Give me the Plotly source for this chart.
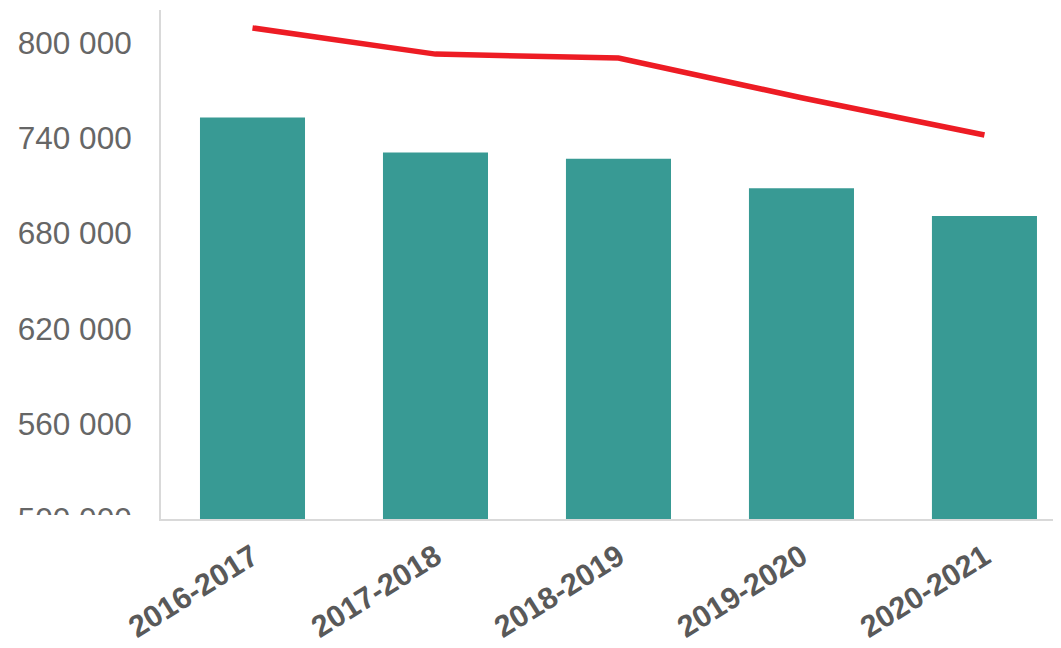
import plotly.graph_objects as go

categories = ["2016-2017", "2017-2018", "2018-2019", "2019-2020", "2020-2021"]
bar_values = [753000, 731000, 727000, 708500, 691000]
line_values = [809500, 793000, 790500, 765500, 742000]
y_ticks = [500000, 560000, 620000, 680000, 740000, 800000]
y_tick_labels = ["500 000", "560 000", "620 000", "680 000", "740 000", "800 000"]

# the page body has an 8px default margin; compensate in the figure margins
W, H = 1061, 648
ml, mr, mt, mb = 153, 0, 2, 137

fig = go.Figure()
fig.add_trace(go.Bar(x=list(range(len(categories))), y=bar_values,
                     marker=dict(color="#389A94", line=dict(width=0))))
fig.add_trace(go.Scatter(x=list(range(len(categories))), y=line_values, mode="lines",
                         line=dict(color="#ED1C24", width=5.5)))

fig.update_layout(
    width=W, height=H,
    margin=dict(l=ml, r=mr, t=mt, b=mb, autoexpand=False),
    plot_bgcolor="white", paper_bgcolor="white",
    showlegend=False,
    bargap=0.426,
    font=dict(family="Liberation Sans, Arial, sans-serif"),
    xaxis=dict(
        tickmode="array", tickvals=list(range(len(categories))), ticktext=categories,
        range=[-0.5, 4.462], showgrid=False, zeroline=False, automargin=False,
        showline=True, linecolor="#D9D9D9", linewidth=2,
        tickangle=-32, ticks="", ticklabelstandoff=6,
        tickfont=dict(size=30.5, color="#595959", family="Liberation Sans, Arial, sans-serif", weight="bold"),
    ),
    yaxis=dict(
        tickmode="array", tickvals=y_ticks, ticktext=y_tick_labels,
        range=[500000, 820800], showgrid=False, zeroline=False, automargin=False,
        showline=True, linecolor="#D9D9D9", linewidth=2,
        ticks="", ticklabelstandoff=21,
        tickfont=dict(size=31.5, color="#666666"),
    ),
)

# white mask to clip the lowest tick label like the reference
plot_w = W - ml - mr
plot_h = H - mt - mb
fig.add_shape(type="rect", xref="paper", yref="paper", layer="above",
              x0=-ml / plot_w, x1=-8 / plot_w, y0=-40 / plot_h, y1=4 / plot_h,
              fillcolor="white", line=dict(width=0))

fig.write_html("out.html")
